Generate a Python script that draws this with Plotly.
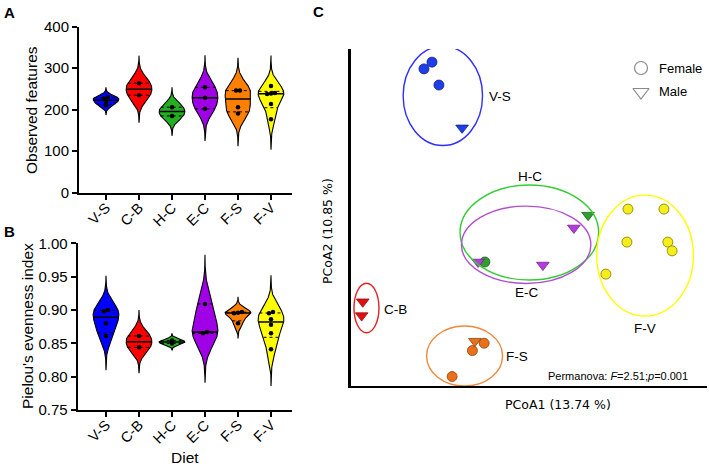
import numpy as np
import plotly.graph_objects as go

# ---------------- data ----------------
categories = ["V-S", "C-B", "H-C", "E-C", "F-S", "F-V"]
violin_colors = ["#0000FF", "#FF0000", "#22B022", "#A000E6", "#FF8000", "#FFFF00"]

observed_VS = [211, 219, 227, 230]
observed_CB = [235, 264]
observed_HC = [185, 206]
observed_EC = [202, 229, 254]
observed_FS = [191, 206, 246, 246]
observed_FV = [177, 214, 238, 239, 240, 257]

pielou_VS = [0.861, 0.880, 0.898, 0.900]
pielou_CB = [0.844, 0.861]
pielou_HC = [0.8497, 0.8543]
pielou_EC = [0.865, 0.867, 0.909]
pielou_FS = [0.880, 0.895, 0.896, 0.897]
pielou_FV = [0.841, 0.865, 0.878, 0.886, 0.895, 0.897]

observed = [observed_VS, observed_CB, observed_HC, observed_EC, observed_FS, observed_FV]
pielou = [pielou_VS, pielou_CB, pielou_HC, pielou_EC, pielou_FS, pielou_FV]

# PCoA scores (arbitrary units)
pcoa_group = ["V-S", "V-S", "V-S", "V-S",
              "H-C", "H-C",
              "E-C", "E-C", "E-C",
              "F-V", "F-V", "F-V", "F-V", "F-V", "F-V",
              "C-B", "C-B",
              "F-S", "F-S", "F-S", "F-S"]
pcoa_sex = ["F", "F", "F", "M",
            "M", "F",
            "M", "M", "M",
            "F", "F", "F", "F", "F", "F",
            "M", "M",
            "M", "F", "F", "F"]
pcoa1 = [-0.295, -0.2725, -0.253, -0.188,
         0.166, -0.124,
         0.126, 0.039, -0.143,
         0.278, 0.379, 0.275, 0.390, 0.402, 0.216,
         -0.467, -0.470,
         -0.152, -0.159, -0.126, -0.216]
pcoa2 = [0.441, 0.461, 0.393, 0.266,
         0.007, -0.132,
         -0.031, -0.141, -0.132,
         0.025, 0.025, -0.073, -0.073, -0.099, -0.168,
         -0.250, -0.291,
         -0.367, -0.395, -0.373, -0.472]

ellipse_group = ["V-S", "H-C", "E-C", "F-V", "C-B", "F-S"]
ellipse_cx = [-0.242, 0.001, -0.008, 0.326, -0.4565, -0.181]
ellipse_cy = [0.361, -0.0445, -0.081, -0.113, -0.2685, -0.411]
ellipse_rx = [0.1115, 0.1947, 0.1817, 0.1357, 0.0351, 0.1067]
ellipse_ry = [0.1474, 0.141, 0.1148, 0.1795, 0.0733, 0.089]

label_pos = {"V-S": (-0.081, 0.358), "H-C": (0.003, 0.123), "E-C": (-0.006, -0.224),
             "F-V": (0.326, -0.328), "C-B": (-0.376, -0.2715), "F-S": (-0.034, -0.411)}

marker_fill = {"V-S": "#1E3FE6", "C-B": "#E01010", "H-C": "#2FA02F", "E-C": "#B43CDC",
               "F-S": "#E8701A", "F-V": "#F5EE1A"}
marker_edge = {"V-S": "#10208A", "C-B": "#901010", "H-C": "#1A601A", "E-C": "#7A2090",
               "F-S": "#904010", "F-V": "#807800"}
ellipse_color = {"V-S": "#2E2EFF", "C-B": "#E02222", "H-C": "#33CC33", "E-C": "#B24FD0",
                 "F-S": "#F0883A", "F-V": "#FFFF00"}

# ---------------- helpers ----------------
W, H = 709, 468
AX_FONT = "Liberation Sans, Arial, sans-serif"
C_FONT = "DejaVu Sans, Verdana, sans-serif"

fig = go.Figure()


def weibull_q(v, p):
    s = np.sort(np.asarray(v, float))
    n = len(s)
    pos = min(max(p * (n + 1), 1), n)
    lo = int(np.floor(pos))
    frac = pos - lo
    if lo >= n:
        return s[-1]
    return s[lo - 1] + frac * (s[lo] - s[lo - 1])


def add_violins(groups, xa, ya, thr):
    for i, (vals, col) in enumerate(zip(groups, violin_colors)):
        v = np.asarray(vals, float)
        n = len(v)
        bw = 1.06 * v.std(ddof=1) * n ** -0.2
        ys = np.linspace(v.min() - 3.5 * bw, v.max() + 3.5 * bw, 400)
        d = np.exp(-0.5 * ((ys[:, None] - v[None, :]) / bw) ** 2).sum(1)
        d /= d.max()
        hw = 0.39 * d
        xs = np.concatenate([i + hw, (i - hw)[::-1]])
        yy = np.concatenate([ys, ys[::-1]])
        fig.add_trace(go.Scatter(x=xs, y=yy, mode="lines", fill="toself", fillcolor=col,
                                 line=dict(color="black", width=1.1), xaxis=xa, yaxis=ya,
                                 hoverinfo="skip", showlegend=False))
        for q, dash, wd in [(weibull_q(v, 0.25), "dot", 1), (weibull_q(v, 0.75), "dot", 1),
                            (float(np.median(v)), "solid", 1.5)]:
            w = float(np.interp(q, ys, hw))
            fig.add_trace(go.Scatter(x=[i - w, i + w], y=[q, q], mode="lines",
                                     line=dict(color="black", width=wd, dash=dash),
                                     xaxis=xa, yaxis=ya, hoverinfo="skip", showlegend=False))
        # spread near-ties horizontally
        s = np.sort(v)
        clusters = [[s[0]]]
        for val in s[1:]:
            if val - clusters[-1][-1] <= thr:
                clusters[-1].append(val)
            else:
                clusters.append([val])
        px, py = [], []
        for c in clusters:
            m = len(c)
            for k, val in enumerate(c):
                px.append(i + (k - (m - 1) / 2) * 0.12)
                py.append(val)
        fig.add_trace(go.Scatter(x=px, y=py, mode="markers",
                                 marker=dict(color="black", size=4.5),
                                 xaxis=xa, yaxis=ya, showlegend=False))


add_violins(observed, "x", "y", 5.0)
add_violins(pielou, "x2", "y2", 0.003)

# ---------------- panel C ----------------
for g, cx, cy, rx, ry in zip(ellipse_group, ellipse_cx, ellipse_cy, ellipse_rx, ellipse_ry):
    fig.add_shape(type="circle", xref="x3", yref="y3", x0=cx - rx, x1=cx + rx,
                  y0=cy - ry, y1=cy + ry, line=dict(color=ellipse_color[g], width=1.4))

for g in ellipse_group:
    for sx, sym, sz in [("F", "circle", 10), ("M", "triangle-down", 11)]:
        idx = [k for k in range(len(pcoa_group)) if pcoa_group[k] == g and pcoa_sex[k] == sx]
        if not idx:
            continue
        fig.add_trace(go.Scatter(x=[pcoa1[k] for k in idx], y=[pcoa2[k] for k in idx],
                                 mode="markers", xaxis="x3", yaxis="y3", showlegend=False,
                                 cliponaxis=False,
                                 marker=dict(symbol=sym, size=sz, color=marker_fill[g],
                                             line=dict(color=marker_edge[g], width=0.8))))

for g, (lx, ly) in label_pos.items():
    fig.add_annotation(x=lx, y=ly, xref="x3", yref="y3", text=g, showarrow=False,
                       xanchor="center", yanchor="middle",
                       font=dict(family=AX_FONT, size=13.5, color="black"))

# legend (drawn inside panel C)
fig.add_trace(go.Scatter(x=[0.3146], y=[0.4436], mode="markers", xaxis="x3", yaxis="y3",
                         showlegend=False,
                         marker=dict(symbol="circle-open", size=13, color="#8a8a8a",
                                     line=dict(width=1.2))))
fig.add_trace(go.Scatter(x=[0.3146], y=[0.3724], mode="markers", xaxis="x3", yaxis="y3",
                         showlegend=False,
                         marker=dict(symbol="triangle-down-open", size=14, color="#8a8a8a",
                                     line=dict(width=1.2))))


# ---------------- titles / panel letters ----------------
def ann(x, y, text, size, family=AX_FONT, angle=0, bold=False, xanchor="center"):
    fig.add_annotation(x=x / W, y=1 - y / H, xref="paper", yref="paper",
                       text=f"<b>{text}</b>" if bold else text, showarrow=False,
                       xanchor=xanchor, yanchor="middle",
                       textangle=angle, font=dict(family=family, size=size, color="black"))


ann(657, 68, "Female", 13, xanchor="left")
ann(657, 92, "Male", 13, xanchor="left")
ann(690, 376, "Permanova: <i>F</i>=2.51;<i>p</i>=0.001", 11, xanchor="right")
ann(31, 110, "Observed features", 15.5, angle=-90)
ann(27, 326, "Pielou's evenness index", 15.5, angle=-90)
ann(185, 457, "Diet", 15.5)
ann(558, 404, "PCoA1 (13.74 %)", 12.5, family=C_FONT)
ann(327, 231, "PCoA2 (10.85 %)", 12.5, family=C_FONT, angle=-90)
ann(9, 12, "A", 15, bold=True)
ann(9, 231, "B", 15, bold=True)
ann(318, 11, "C", 15, bold=True)

# ---------------- axes ----------------
tickfont = dict(family=AX_FONT, size=15, color="black")
common = dict(showline=True, linecolor="black", linewidth=2, ticks="outside", ticklen=5,
              tickwidth=1.5, tickcolor="black", showgrid=False, zeroline=False,
              tickfont=tickfont, automargin=False)
xcommon = dict(common, tickfont=dict(family=AX_FONT, size=14.5, color="black"),
               ticklabelstandoff=-6)

xA0, xB0, xR, x_first, step = 79, 77.7, 292, 106, 33
fig.update_layout(
    template="none",
    width=W, height=H, autosize=False, margin=dict(l=0, r=0, t=0, b=0, pad=0),
    plot_bgcolor="white", paper_bgcolor="white", showlegend=False,
    xaxis=dict(domain=[xA0 / W, xR / W], range=[(xA0 - x_first) / step, (xR - x_first) / step],
               tickvals=list(range(6)), ticktext=categories, tickangle=-45, anchor="y", **xcommon),
    yaxis=dict(domain=[1 - 192.7 / H, 1 - 26.7 / H], range=[0, 400], tickvals=[0, 100, 200, 300, 400],
               anchor="x", **common),
    xaxis2=dict(domain=[xB0 / W, xR / W], range=[(xB0 - x_first) / step, (xR - x_first) / step],
                tickvals=list(range(6)), ticktext=categories, tickangle=-45, anchor="y2", **xcommon),
    yaxis2=dict(domain=[1 - 410 / H, 1 - 243.3 / H], range=[0.75, 1.0],
                tickvals=[0.75, 0.80, 0.85, 0.90, 0.95, 1.00], tickformat=".2f", anchor="x2", **common),
    xaxis3=dict(domain=[351 / W, 707 / W], range=[-0.5, 0.5], showline=True, linecolor="black",
                linewidth=2, showticklabels=False, ticks="", showgrid=False, zeroline=False,
                anchor="y3", automargin=False),
    yaxis3=dict(domain=[1 - 386 / H, 1 - 49 / H], range=[-0.5, 0.5], showline=True, linecolor="black",
                linewidth=2.5, showticklabels=False, ticks="", showgrid=False, zeroline=False,
                anchor="x3", automargin=False),
)

fig.write_html("out.html", config={"displayModeBar": False},
               post_script="document.body.style.margin='0';document.body.style.overflow='hidden';")
